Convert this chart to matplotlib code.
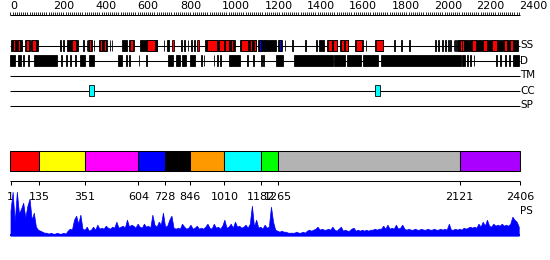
import numpy as np
import matplotlib
matplotlib.use("Agg")
import matplotlib.pyplot as plt
from matplotlib.patches import Rectangle

# ---------------- data ----------------
seq_len = 2406
top_ticks = [0, 200, 400, 600, 800, 1000, 1200, 1400, 1600, 1800, 2000, 2200, 2400]

track_names = ["SS", "D", "TM", "CC", "SP"]

ss_black = [(2, 54), (68, 92), (97, 125), (126, 131), (236, 240), (249, 253),
            (267, 319), (344, 348), (359, 363), (366, 385), (392, 396), (418, 456),
            (468, 472), (477, 481), (527, 552), (561, 583), (612, 692),
            (723, 727), (738, 742), (746, 750), (805, 809), (821, 825), (836, 840),
            (852, 856), (868, 872), (920, 1058), (1082, 1161), (1170, 1254),
            (1262, 1281), (1294, 1298), (1330, 1334), (1393, 1397), (1445, 1449),
            (1456, 1482), (1495, 1542), (1556, 1595), (1627, 1663), (1677, 1681),
            (1721, 1759), (1811, 1815), (1845, 1849), (1882, 1886), (2006, 2010),
            (2021, 2025), (2040, 2044), (2053, 2057), (2065, 2069), (2077, 2081),
            (2092, 2096), (2100, 2104), (2110, 2398)]
ss_red = [(12, 21), (35, 45), (73, 87), (102, 120), (289, 308), (371, 380),
          (423, 432), (442, 451), (565, 580), (645, 682), (763, 773), (883, 888),
          (926, 975), (985, 1007), (1013, 1030), (1040, 1052), (1088, 1121),
          (1129, 1140), (1148, 1161), (1500, 1518), (1522, 1540), (1560, 1575),
          (1578, 1592), (1632, 1658), (1728, 1757), (2123, 2130), (2133, 2140),
          (2180, 2200), (2233, 2250), (2275, 2297), (2330, 2346), (2357, 2375)]
ss_blue = [(685, 690), (1173, 1184), (1196, 1200), (1269, 1277)]

d_black = [(0, 22), (36, 50), (58, 62), (82, 86), (112, 218), (240, 244),
           (263, 267), (282, 286), (303, 307), (328, 352), (371, 396), (509, 525),
           (547, 551), (558, 562), (605, 609), (639, 643), (744, 767), (780, 799),
           (811, 827), (849, 870), (899, 903), (912, 916), (959, 963), (975, 979),
           (989, 993), (1032, 1082), (1119, 1123), (1146, 1150), (1182, 1186),
           (1194, 1198), (1252, 1288), (1340, 1521), (1526, 1580), (1589, 1655),
           (1663, 1737), (1750, 2126), (2130, 2146), (2155, 2159), (2171, 2175),
           (2187, 2191), (2292, 2296), (2313, 2317), (2336, 2340), (2355, 2359),
           (2373, 2401)]
cc_boxes = [(372, 393), (1721, 1745)]

domain_bounds = [1, 135, 351, 604, 728, 846, 1010, 1182, 1265, 2121, 2406]
domain_colors = ["#FF0000", "#FFFF00", "#FF00FF", "#0000FF", "#000000",
                 "#FF9900", "#00FFFF", "#00FF00", "#B3B3B3", "#AA00FF"]

ps_step = 10
ps_values = [25, 44, 14, 44, 22, 27, 33, 18, 30, 37, 16, 23, 9, 6, 5,
             4, 3, 3, 2, 3, 2, 2, 3, 2, 2, 3, 2,
             5, 7, 6, 16, 20, 12, 21, 7, 6, 9, 5, 6, 9, 6, 11, 7, 8, 7, 10, 8, 7, 9, 8,
             14, 8, 9, 10, 8, 16, 9, 11, 10, 8, 12, 9, 8, 12, 9, 10, 8, 21, 11, 9,
             14, 11, 23, 9, 10, 16, 20, 8, 7, 8, 7, 12, 9, 7, 8, 11, 7, 8, 10, 7,
             8, 7, 9, 12, 8, 7, 12, 8, 9, 7, 10, 16, 8, 9, 12, 8, 14, 9, 10, 8,
             9, 11, 8, 12, 30, 9, 16, 8, 9, 7, 11, 8, 9, 29, 14, 6, 5, 4, 5, 4,
             4, 3, 3, 3, 3, 4, 3, 3, 4, 3, 5, 6, 5, 6, 7, 9, 6, 7, 6, 6,
             7, 6, 9, 6, 5, 7, 9, 5, 6, 5, 5, 7, 8, 5, 6, 5, 6, 5, 6, 5,
             6, 6, 7, 6, 7, 7, 10, 7, 11, 7, 8, 7, 11, 7, 8, 11, 7, 6, 7, 6,
             6, 7, 6, 6, 7, 6, 6, 7, 6, 6, 7, 6, 6, 7, 6, 7, 6, 12, 6, 6,
             7, 6, 7, 6, 8, 7, 8, 9, 8, 9, 8, 12, 9, 14, 10, 16, 10, 9, 12, 10,
             11, 10, 12, 10, 11, 10, 12, 19, 16, 14, 9]

# ---------------- layout ----------------
W, H = 550, 260
x0_px, x1_px = 10.5, 520.0
scale = (x1_px - x0_px) / seq_len
XL = -x0_px / scale
XR = (W - x0_px) / scale

fig = plt.figure(figsize=(W / 100, H / 100), dpi=100)
ax = fig.add_axes([0, 0, 1, 1])
ax.set_xlim(XL, XR)
ax.set_ylim(H, 0)
ax.axis("off")

LW = 0.75
fs_tick = 8
fs_lab = 7.5

# top ruler
ruler_y = 14.5
ax.hlines(ruler_y, 0, seq_len, color="black", lw=LW)
minor = np.arange(0, seq_len + 1, 10)
ax.vlines(minor, ruler_y - 3, ruler_y, color="black", lw=0.6)
for t in top_ticks:
    ax.text(t, ruler_y - 3.5, str(t), ha="left", va="bottom", fontsize=fs_tick)

# tracks
track_y = {"SS": 45.5, "D": 60.5, "TM": 75.5, "CC": 90.5, "SP": 105.5}
box_h = 11
for name in track_names:
    y = track_y[name]
    ax.hlines(y, 0, seq_len, color="black", lw=LW, zorder=1)
    ax.text(seq_len + 1, y, name, ha="left", va="center", fontsize=fs_lab)


def draw_boxes(segs, y, color, z):
    for s, e in segs:
        ax.add_patch(Rectangle((s, y - box_h / 2), e - s, box_h, facecolor=color,
                               edgecolor="black", lw=0.6, zorder=z))


draw_boxes(ss_black, track_y["SS"], "black", 2)
draw_boxes(ss_red, track_y["SS"], "#FF0000", 3)
draw_boxes(ss_blue, track_y["SS"], "#0000FF", 3)
draw_boxes(d_black, track_y["D"], "black", 2)
draw_boxes(cc_boxes, track_y["CC"], "#00FFFF", 3)

# domain bar
bar_top, bar_bot = 150.5, 170.5
for i, c in enumerate(domain_colors):
    s = domain_bounds[i] - 1 if i == 0 else domain_bounds[i]
    e = domain_bounds[i + 1]
    ax.add_patch(Rectangle((s, bar_top), e - s, bar_bot - bar_top, facecolor=c,
                           edgecolor="black", lw=LW, zorder=2))

axis_y = 181
ax.hlines(axis_y, 0, seq_len, color="black", lw=LW)
ax.vlines(domain_bounds, axis_y, axis_y + 4, color="black", lw=LW)
for b in domain_bounds:
    ax.text(b, 200, str(b), ha="center", va="baseline", fontsize=fs_tick, zorder=5)

ax.text(seq_len + 1, 211.5, "PS", ha="left", va="center", fontsize=fs_lab)

# PS profile
base_px = 235.7
ps_h = 45
ax_ps = fig.add_axes([0, (H - base_px) / H, 1, ps_h / H])
ax_ps.set_xlim(XL, XR)
ax_ps.set_ylim(0, ps_h)
ax_ps.axis("off")
ax_ps.patch.set_alpha(0)
ps_res = np.arange(len(ps_values)) * ps_step
ps_res = np.minimum(ps_res, seq_len)
ax_ps.fill_between(ps_res, ps_values, 0, color="#0000FF", lw=0.5, edgecolor="#0000FF")
ax_ps.hlines(0.6, 0, seq_len, color="#0000FF", lw=1.5)

fig.savefig("out.png", dpi=100)
